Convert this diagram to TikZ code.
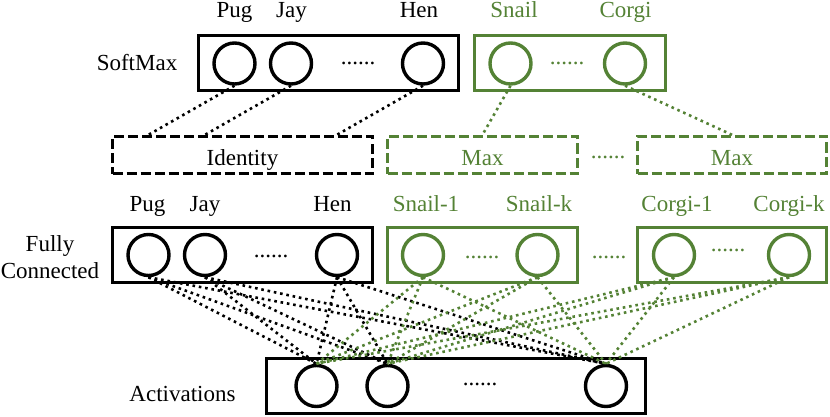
\documentclass[tikz,border=0pt]{standalone}
\usepackage{fontspec}
\setmainfont{Liberation Serif}
\usetikzlibrary{calc}
\definecolor{leafgreen}{RGB}{84,130,53}

\begin{document}
\begin{tikzpicture}[
  x=0.5pt, y=-0.5pt,
  font=\fontsize{11.5}{13.5}\selectfont,
  layer/.style={draw, line width=1.7pt, minimum height=27.5pt, inner sep=0pt},
  op/.style={draw, dash pattern=on 5pt off 2pt, line width=1.7pt, minimum height=18.5pt, text height=10pt, text depth=0pt, inner sep=0pt},
  neuron/.style={circle, draw, line width=1.7pt, minimum size=20.5pt, inner sep=0pt},
  link/.style={line width=1.3pt, dash pattern=on 1.3pt off 1.9pt},
  lbl/.style={anchor=base, inner sep=0pt},
  gap/.style={anchor=base, inner sep=0pt}
]
\useasboundingbox (0,0) rectangle (830,417);

% softmax
\node[layer, minimum width=130pt] (smA) at (328.5,63) {};
\node[layer, draw=leafgreen, minimum width=95.5pt] (smB) at (570,63) {};
\node[neuron] (sPug) at (234.5,63.5) {};
\node[neuron] (sJay) at (291,63.5) {};
\node[neuron] (sHen) at (423,63.5) {};
\node[neuron, draw=leafgreen] (sSnail) at (510.5,63.5) {};
\node[neuron, draw=leafgreen] (sCorgi) at (625,63.5) {};
\node[gap] (sDotA) at (358,65) {......};
\node[gap, leafgreen] (sDotB) at (567,65) {......};
\node[lbl] (tSoft) at (137,71) {SoftMax};
\node[lbl] (tPug) at (234.5,18) {Pug};
\node[lbl] (tJay) at (291.5,18) {Jay};
\node[lbl] (tHen) at (419,18) {Hen};
\node[lbl, leafgreen] (tSnail) at (514,18) {Snail};
\node[lbl, leafgreen] (tCorgi) at (625.5,18) {Corgi};

% pooling ops
\node[op, minimum width=130pt] (id) at (242.5,155) {Identity};
\node[op, draw=leafgreen, text=leafgreen, minimum width=95pt] (mx1) at (482.5,155) {Max};
\node[op, draw=leafgreen, text=leafgreen, minimum width=94.5pt] (mx2) at (732,155) {Max};
\node[gap, leafgreen] (oDot) at (608,158) {......};

% fully connected
\node[layer, minimum width=130pt] (fcA) at (242.5,255) {};
\node[layer, draw=leafgreen, minimum width=95pt] (fcB) at (482.5,255) {};
\node[layer, draw=leafgreen, minimum width=94.5pt] (fcC) at (732,255) {};
\node[neuron] (fPug) at (148.5,255) {};
\node[neuron] (fJay) at (205,255) {};
\node[neuron] (fHen) at (337,255) {};
\node[neuron, draw=leafgreen] (fSnailA) at (423,255) {};
\node[neuron, draw=leafgreen] (fSnailK) at (537.5,255) {};
\node[neuron, draw=leafgreen] (fCorgiA) at (674,255) {};
\node[neuron, draw=leafgreen] (fCorgiK) at (789,255) {};
\node[gap] (fDotA) at (271,257.5) {......};
\node[gap, leafgreen] (fDotB) at (482,258.5) {......};
\node[gap, leafgreen] (fDotC) at (609,258.5) {......};
\node[gap, leafgreen] (fDotD) at (728,251.5) {......};
\node[align=center, inner sep=0pt] (tFc) at (50,257.5) {Fully\\Connected};
\node[lbl] (uPug) at (147.5,211) {Pug};
\node[lbl] (uJay) at (205,211) {Jay};
\node[lbl] (uHen) at (332.5,211) {Hen};
\node[lbl, leafgreen] (uSnailA) at (426,211) {Snail-1};
\node[lbl, leafgreen] (uSnailK) at (539,211) {Snail-k};
\node[lbl, leafgreen] (uCorgiA) at (677,211) {Corgi-1};
\node[lbl, leafgreen] (uCorgiK) at (789,211) {Corgi-k};

% activations
\node[layer, minimum width=189.5pt] (act) at (456,386) {};
\node[neuron] (aOne) at (316.5,386) {};
\node[neuron] (aTwo) at (387.5,386) {};
\node[neuron] (aThree) at (606,386) {};
\node[gap] (aDot) at (480,385.5) {......};
\node[lbl] (tAct) at (182.5,401) {Activations};

% connections
\draw[link] (sPug.south) -- (id.north -| fPug);
\draw[link] (sJay.south) -- (id.north -| fJay);
\draw[link] (sHen.south) -- (id.north -| fHen);
\draw[link, leafgreen] (sSnail.south) -- (mx1.north);
\draw[link, leafgreen] (sCorgi.south) -- (mx2.north);

\foreach \f in {fPug,fJay,fHen}
  \foreach \a in {aOne,aTwo,aThree}
    \draw[link] (\f.south) -- (\a.north);
\foreach \f in {fSnailA,fSnailK,fCorgiA,fCorgiK}
  \foreach \a in {aOne,aTwo,aThree}
    \draw[link, leafgreen] (\f.south) -- (\a.north);

\end{tikzpicture}
\end{document}
